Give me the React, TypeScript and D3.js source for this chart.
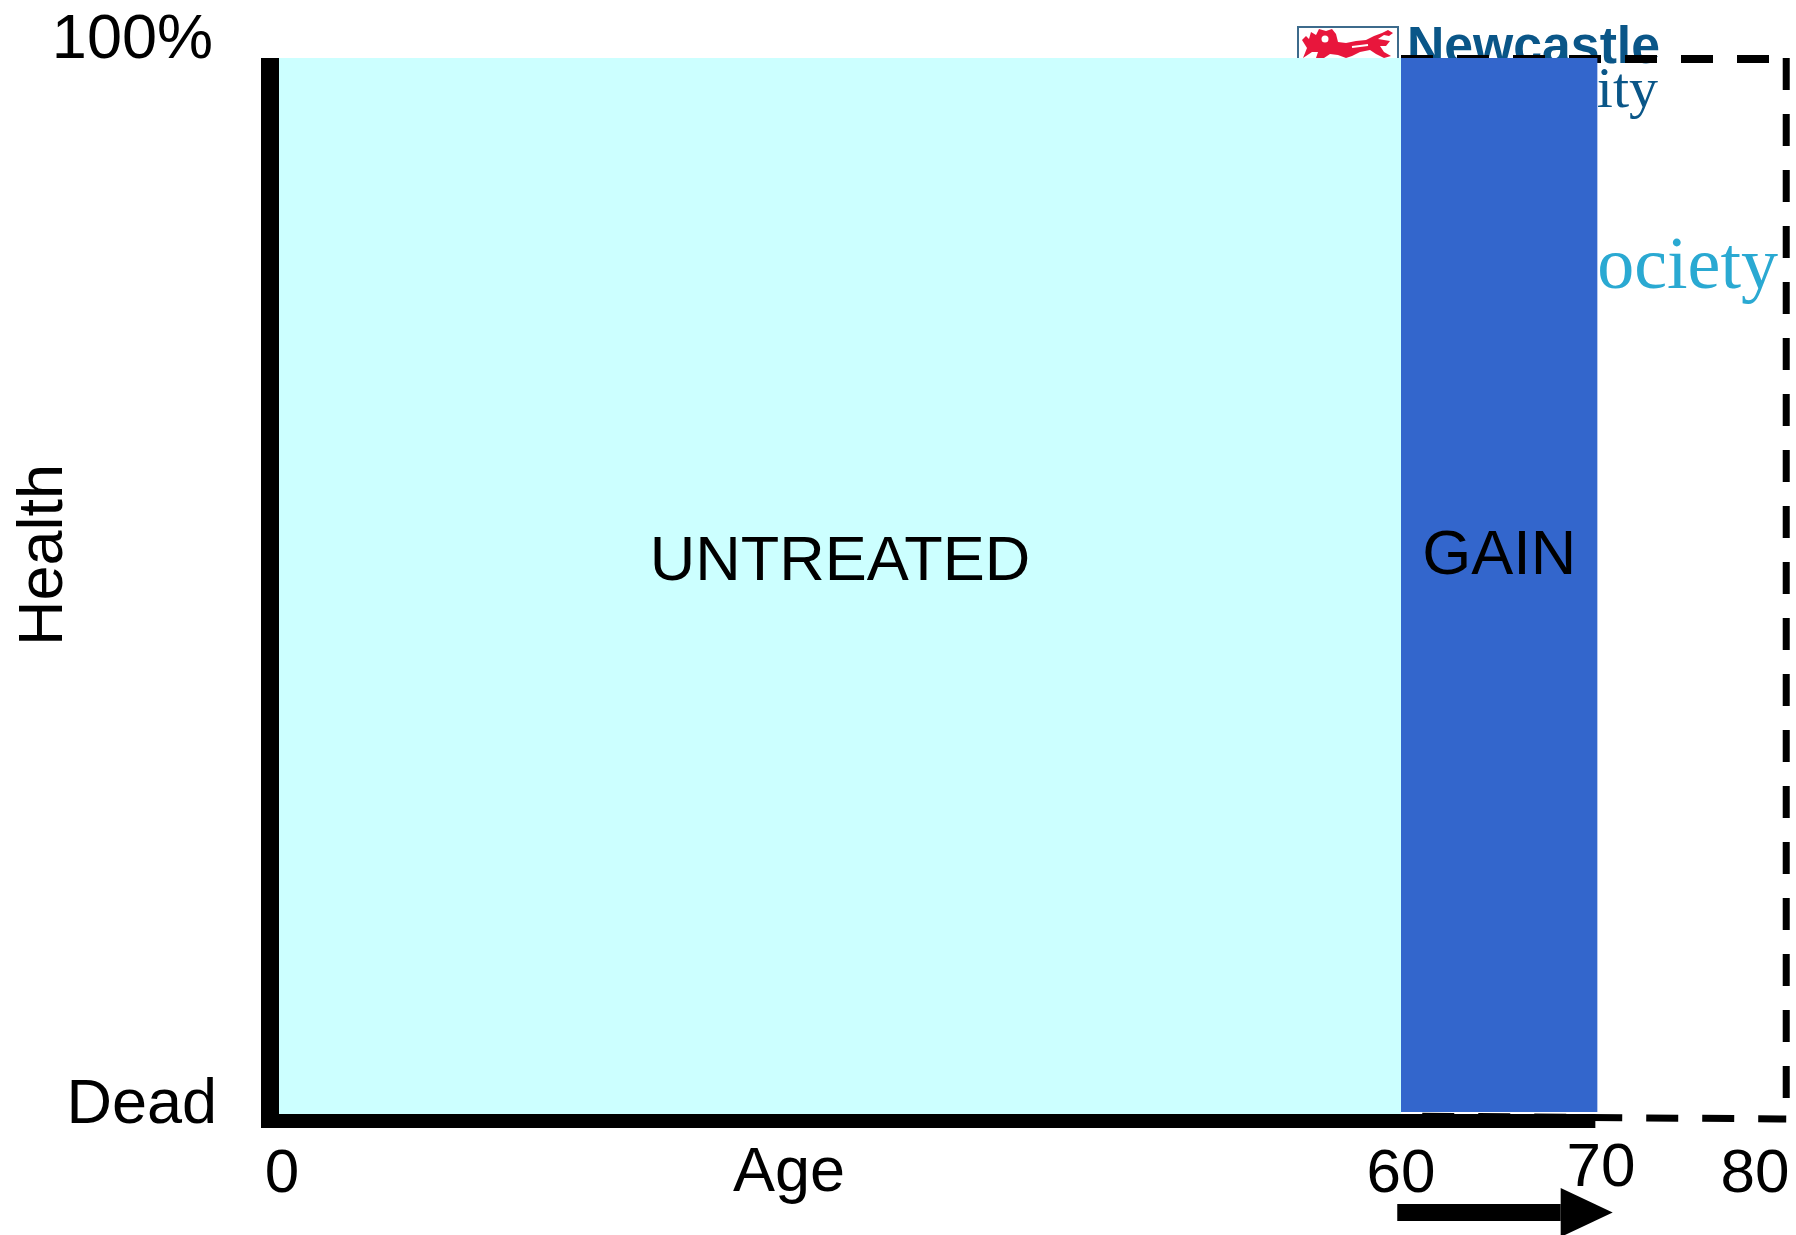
import React from 'react';
import * as d3 from 'd3';

// age axis
const ageTicks = [0, 60, 70, 80];
const ageTickNudge = [3, 0, 13, -20];
const ageTickLift = [0, 0, 6, 0];

// health axis
const healthTicks = [100, 0];
const healthTickLabels = ['100%', 'Dead'];

// blocks of healthy life
const blockNames = ['UNTREATED', 'GAIN'];
const blockStart = [0, 60];
const blockEnd = [60, 70.5];
const blockHealth = [100, 100];
const blockColors = ['#ccffff', '#3366cc'];

// potential life span (dashed outline) and the shift arrow
const potentialStart = 60;
const potentialEnd = 80.6;
const arrowFrom = 59.8;
const arrowTo = 71;

const W = 1796;
const H = 1235;
const FONT = '"Liberation Sans", Arial, Helvetica, sans-serif';
const SERIF = '"Liberation Serif", "Times New Roman", serif';

const x = d3.scaleLinear().domain([0, 60]).range([279, 1401]);
const y = d3.scaleLinear().domain([0, 100]).range([1114, 58]);

// logo sitting behind the chart (only partly visible)
const Logo = () => (
    <g>
        <rect x={1298} y={27} width={100} height={60} fill="#fff" stroke="#3d6b8c" strokeWidth={2} />
        <path
            d="M1303,58 L1307,48 L1302,40 L1306,36 L1309,39 L1311,32 L1316,35 L1319,29 L1326,31 L1332,29
               L1336,34 L1338,42 L1346,43 L1356,41 L1366,40 L1374,36 L1382,33 L1388,30 L1393,33
               L1389,36 L1384,35 L1378,39 L1390,41 L1386,46 L1380,46 L1384,52 L1391,56 L1384,58
               L1376,54 L1370,50 L1360,52 L1352,56 L1346,58 L1338,55 L1330,54 L1324,58 L1316,58
               L1318,52 L1312,52 Z"
            fill="#e8163c"
        />
        <circle cx={1325} cy={39} r={3.5} fill="#fff" />
        <path d="M1352,47 L1368,45" stroke="#fff" strokeWidth={2} />
        <text x={1407} y={63} fontFamily={FONT} fontWeight="bold" fontSize={51} fill="#0a5688"
            textLength={253} lengthAdjust="spacingAndGlyphs">Newcastle</text>
        <text x={1658} y={107} fontFamily={SERIF} fontSize={58} fill="#0a5688" textAnchor="end">University</text>
        <text x={1778} y={288} fontFamily={SERIF} fontSize={74} fill="#2aa9d2" textAnchor="end">Society</text>
    </g>
);

const App = () => {
    const yTop = y(100);
    const yBottom = y(0);
    const dash = '32 24';

    return (
        <svg width={W} height={H} style={{ position: 'absolute', left: 0, top: 0, background: '#fff' }}>
            <rect x={0} y={0} width={W} height={H} fill="#fff" />
            <Logo />

            {/* potential life span outline */}
            <line x1={x(potentialStart)} x2={x(potentialEnd)} y1={yTop + 1} y2={yTop + 1}
                stroke="#000" strokeWidth={8} strokeDasharray={dash} />
            <line x1={x(potentialEnd)} x2={x(potentialEnd)} y1={yTop} y2={yBottom + 4}
                stroke="#000" strokeWidth={7} strokeDasharray={dash} />
            <line x1={x(potentialEnd)} x2={x(potentialStart)} y1={yBottom + 5} y2={yBottom + 2}
                stroke="#000" strokeWidth={7} strokeDasharray={dash} strokeDashoffset={4} />

            {/* blocks */}
            {blockNames.map((name, i) => (
                <rect key={name}
                    x={x(blockStart[i])}
                    y={y(blockHealth[i])}
                    width={x(blockEnd[i]) - x(blockStart[i])}
                    height={yBottom - y(blockHealth[i]) - (i === 1 ? 2 : 0)}
                    fill={blockColors[i]} />
            ))}

            {/* axes */}
            <line x1={270} x2={270} y1={yTop} y2={yBottom + 14} stroke="#000" strokeWidth={18} />
            <line x1={261} x2={x(blockEnd[1]) - 2} y1={yBottom + 7} y2={yBottom + 7} stroke="#000" strokeWidth={14} />

            {/* block labels */}
            {blockNames.map((name, i) => (
                <text key={name}
                    x={(x(blockStart[i]) + x(blockEnd[i])) / 2}
                    y={i === 0 ? 580 : 574}
                    textAnchor="middle" fontFamily={FONT} fontSize={63} fill="#000">{name}</text>
            ))}

            {/* health tick labels */}
            {healthTicks.map((v, i) => (
                <text key={v}
                    x={i === 0 ? 213 : 217}
                    y={y(v) + (i === 0 ? 0 : 9)}
                    textAnchor="end" fontFamily={FONT} fontSize={63} fill="#000">{healthTickLabels[i]}</text>
            ))}

            {/* age tick labels */}
            {ageTicks.map((v, i) => (
                <text key={v}
                    x={x(v) + ageTickNudge[i]}
                    y={1192 - ageTickLift[i]}
                    textAnchor="middle" fontFamily={FONT} fontSize={62} fill="#000">{v}</text>
            ))}

            {/* axis titles */}
            <text x={789} y={1191} textAnchor="middle" fontFamily={FONT} fontSize={63} fill="#000">Age</text>
            <text transform="translate(62,555) rotate(-90)" textAnchor="middle" fontFamily={FONT} fontSize={63} fill="#000">Health</text>

            {/* arrow */}
            <rect x={x(arrowFrom)} y={1204} width={x(arrowTo) - 46 - x(arrowFrom)} height={17} fill="#000" />
            <path d={`M${x(arrowTo) - 46},1188 L${x(arrowTo) + 6},1212.5 L${x(arrowTo) - 46},1237 Z`} fill="#000" />
        </svg>
    );
};

export default App;
